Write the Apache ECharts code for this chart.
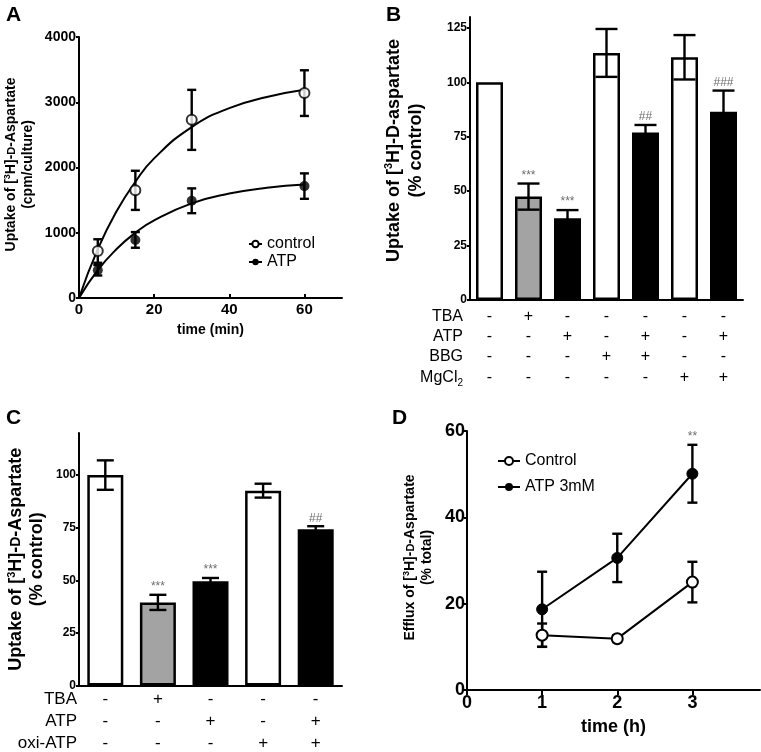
<!DOCTYPE html>
<html><head><meta charset="utf-8">
<script src="https://cdn.jsdelivr.net/npm/echarts@6/dist/echarts.min.js"></script>
<style>html,body{margin:0;padding:0;background:#fff}#c{width:761px;height:752px}</style>
</head><body><div id="c"></div>
<script>
// ---------- Panel A data ----------
const aTime = [5, 15, 30, 60];
const aControl = [720, 1650, 2730, 3140];
const aControlErr = [180, 300, 460, 350];
const aAtp = [425, 890, 1490, 1715];
const aAtpErr = [80, 120, 190, 195];
const aFitTime = [0, 5, 10, 15, 20, 30, 40, 50, 60];
const aControlFit = [0, 750, 1330, 1780, 2140, 2620, 2910, 3080, 3190];
const aAtpFit = [0, 426, 750, 1000, 1190, 1450, 1600, 1690, 1740];
const aXTicks = [0, 20, 40, 60];

// ---------- Panel B data ----------
const bCategories = ['Control', 'TBA', 'ATP', 'BBG', 'ATP+BBG', 'MgCl2', 'ATP+MgCl2'];
const bValues = [100, 47.5, 37.5, 113.5, 77, 111.5, 86.5];
const bErr = [0, 6, 3.8, 11, 3.4, 10.2, 9.7];
const bSig = ['', '***', '***', '', '##', '', '###'];
const bRowNames = ['TBA', 'ATP', 'BBG', 'MgCl{sub|2}'];
const bRows = [
  ['-', '+', '-', '-', '-', '-', '-'],
  ['-', '-', '+', '-', '+', '-', '+'],
  ['-', '-', '-', '+', '+', '-', '-'],
  ['-', '-', '-', '-', '-', '+', '+']
];
const bYTicks = [0, 25, 50, 75, 100, 125];

// ---------- Panel C data ----------
const cCategories = ['Control', 'TBA', 'ATP', 'oxi-ATP', 'ATP+oxi-ATP'];
const cValues = [100, 39.5, 49.6, 92.6, 74.2];
const cErr = [7, 3.6, 1.5, 3.3, 1.5];
const cSig = ['', '***', '***', '', '##'];
const cRowNames = ['TBA', 'ATP', 'oxi-ATP'];
const cRows = [
  ['-', '+', '-', '-', '-'],
  ['-', '-', '+', '-', '+'],
  ['-', '-', '-', '+', '+']
];
const cYTicks = [0, 25, 50, 75, 100];

// ---------- Panel D data ----------
const dTime = [1, 2, 3];
const dControl = [12.7, 11.9, 25];
const dControlErr = [2.7, 0.8, 4.7];
const dAtp = [18.7, 30.6, 50.1];
const dAtpErr = [8.7, 5.6, 6.7];
const dSig = ['', '', '**'];
const dXTicks = [0, 1, 2, 3];

// ---------- styles ----------
const FONT = '"Liberation Sans", Arial, sans-serif';
const fillB = ['#fff', '#a3a3a3', '#000', '#fff', '#000', '#fff', '#000'];
const fillC = ['#fff', '#a3a3a3', '#000', '#fff', '#000'];

function richName(size) {
  return {
    sup: {fontSize: Math.round(size * 0.62), fontWeight: 'bold', fontFamily: FONT, verticalAlign: 'top'},
    sc: {fontSize: Math.round(size * 0.8), fontWeight: 'bold', fontFamily: FONT}
  };
}

function errSeries(xi, yi, xs, vals, errs, capHalf, z) {
  return {
    type: 'custom', xAxisIndex: xi, yAxisIndex: yi, z: z, silent: true,
    data: xs.map((x, i) => [x, vals[i] - errs[i], vals[i] + errs[i]]),
    renderItem: function (params, api) {
      const x = api.value(0), lo = api.value(1), hi = api.value(2);
      if (hi === lo) return null;
      const a = api.coord([x, hi]), b = api.coord([x, lo]);
      const st = {stroke: '#000', lineWidth: 2.4};
      return {type: 'group', children: [
        {type: 'line', shape: {x1: a[0], y1: a[1], x2: b[0], y2: b[1]}, style: st},
        {type: 'line', shape: {x1: a[0] - capHalf, y1: a[1], x2: a[0] + capHalf, y2: a[1]}, style: st},
        {type: 'line', shape: {x1: b[0] - capHalf, y1: b[1], x2: b[0] + capHalf, y2: b[1]}, style: st}
      ]};
    }
  };
}

function sigSeries(xi, yi, xs, vals, errs, sig, gap) {
  return {
    type: 'custom', xAxisIndex: xi, yAxisIndex: yi, z: 6, silent: true,
    data: xs.map((x, i) => [x, vals[i] + errs[i]]),
    renderItem: function (params, api) {
      const t = sig[params.dataIndex];
      if (!t) return null;
      const p = api.coord([api.value(0), api.value(1)]);
      return {type: 'text', x: p[0], y: p[1] - gap,
        style: {text: t, fill: '#6e6e6e', fontSize: 12, fontFamily: FONT, align: 'center', verticalAlign: 'bottom'}};
    }
  };
}

const axisLineStyle = {show: true, lineStyle: {color: '#000', width: 2}};

function rowAxes(gridIndex, cats, names, rows, offsets, nameGap, fontSize) {
  return rows.map((row, r) => ({
    type: 'category', gridIndex: gridIndex, data: cats, position: 'bottom', offset: offsets[r],
    axisLine: {show: false}, axisTick: {show: false}, splitLine: {show: false},
    axisLabel: {show: true, margin: 0, verticalAlign: 'middle', interval: 0, fontSize: fontSize, color: '#000', fontFamily: FONT,
      formatter: (v, i) => row[i]},
    name: names[r], nameLocation: 'start', nameGap: nameGap, nameMoveOverlap: false,
    nameTextStyle: {fontSize: fontSize, color: '#000', fontFamily: FONT, verticalAlign: 'middle',
      rich: {sub: {fontSize: Math.round(fontSize * 0.65), fontFamily: FONT, verticalAlign: 'bottom', padding: [0, 0, -2, 0]}}}
  }));
}

const option = {
  animation: false,
  backgroundColor: '#fff',
  textStyle: {fontFamily: FONT},
  title: [
    {text: 'A', left: 1, top: 0, textStyle: {fontSize: 21, fontWeight: 'bold', color: '#000', fontFamily: FONT}},
    {text: 'B', left: 381, top: 0, textStyle: {fontSize: 21, fontWeight: 'bold', color: '#000', fontFamily: FONT}},
    {text: 'C', left: 1, top: 403, textStyle: {fontSize: 21, fontWeight: 'bold', color: '#000', fontFamily: FONT}},
    {text: 'D', left: 387, top: 403, textStyle: {fontSize: 21, fontWeight: 'bold', color: '#000', fontFamily: FONT}}
  ],
  grid: [
    {left: 79, top: 37, width: 263, height: 261},
    {left: 470, top: 17, width: 273, height: 283},
    {left: 79, top: 433, width: 263, height: 256},
    {left: 467, top: 431, width: 293, height: 259}
  ],
  legend: [
    {data: ['control', 'ATP'], left: 243, top: 231, orient: 'vertical', itemWidth: 13, itemHeight: 8, itemGap: 2,
      selectedMode: false, textStyle: {fontSize: 16, color: '#000', fontFamily: FONT}},
    {data: ['Control', 'ATP 3mM'], left: 492, top: 448, orient: 'vertical', itemWidth: 22, itemHeight: 10, itemGap: 10,
      selectedMode: false, textStyle: {fontSize: 16, color: '#000', fontFamily: FONT}}
  ],
  xAxis: [
    {type: 'value', gridIndex: 0, min: 0, max: 70, axisLine: axisLineStyle, splitLine: {show: false},
      axisTick: {show: true, inside: true, length: 4, lineStyle: {color: '#000', width: 2}, customValues: aXTicks},
      axisLabel: {customValues: aXTicks, fontSize: 15, fontWeight: 'bold', color: '#000', margin: 4, fontFamily: FONT},
      name: 'time (min)', nameLocation: 'middle', nameGap: 25, nameMoveOverlap: false,
      nameTextStyle: {fontSize: 14, fontWeight: 'bold', color: '#000', fontFamily: FONT}},
    {type: 'category', gridIndex: 1, data: bCategories, axisLine: axisLineStyle, axisTick: {show: false}, axisLabel: {show: false}},
    {type: 'category', gridIndex: 2, data: cCategories, axisLine: axisLineStyle, axisTick: {show: false}, axisLabel: {show: false}},
    {type: 'value', gridIndex: 3, min: 0, max: 3.9, axisLine: axisLineStyle, splitLine: {show: false},
      axisTick: {show: true, length: 5, lineStyle: {color: '#000', width: 2}, customValues: dXTicks},
      axisLabel: {customValues: dXTicks, fontSize: 18, fontWeight: 'bold', color: '#000', margin: 4, fontFamily: FONT},
      name: 'time (h)', nameLocation: 'middle', nameGap: 28, nameMoveOverlap: false,
      nameTextStyle: {fontSize: 18, fontWeight: 'bold', color: '#000', fontFamily: FONT}}
  ].concat(
    rowAxes(1, bCategories, bRowNames, bRows, [17, 37, 57, 78], 7, 16),
    rowAxes(2, cCategories, cRowNames, cRows, [14, 36, 58], 2, 17)
  ),
  yAxis: [
    {type: 'value', gridIndex: 0, min: 0, max: 4000, interval: 1000, axisLine: axisLineStyle, splitLine: {show: false},
      axisTick: {show: true, length: 3, lineStyle: {color: '#000', width: 2}},
      axisLabel: {fontSize: 14, fontWeight: 'bold', color: '#000', margin: 3, fontFamily: FONT, formatter: v => String(v)},
      name: 'Uptake of [{sup|3}H]-{sc|D}-Aspartate\n(cpm/culture)', nameLocation: 'middle', nameGap: 42, nameMoveOverlap: false,
      nameTextStyle: {fontSize: 14, fontWeight: 'bold', color: '#000', fontFamily: FONT, lineHeight: 17, rich: richName(14), padding: [0, 0, 0, 6]}},
    {type: 'value', gridIndex: 1, min: 0, max: 130, axisLine: axisLineStyle, splitLine: {show: false},
      axisTick: {show: true, length: 3, lineStyle: {color: '#000', width: 2}, customValues: bYTicks},
      axisLabel: {customValues: bYTicks, fontSize: 12, fontWeight: 'bold', color: '#000', margin: 3, fontFamily: FONT},
      name: 'Uptake of [{sup|3}H]-D-aspartate\n(% control)', nameLocation: 'middle', nameGap: 43, nameMoveOverlap: false,
      nameTextStyle: {fontSize: 18, fontWeight: 'bold', color: '#000', fontFamily: FONT, lineHeight: 22, rich: richName(18), padding: [0, 0, 0, 16]}},
    {type: 'value', gridIndex: 2, min: 0, max: 120, axisLine: axisLineStyle, splitLine: {show: false},
      axisTick: {show: true, length: 3, lineStyle: {color: '#000', width: 2}, customValues: cYTicks},
      axisLabel: {customValues: cYTicks, fontSize: 12, fontWeight: 'bold', color: '#000', margin: 3, fontFamily: FONT},
      name: 'Uptake of [{sup|3}H]-{sc|D}-Aspartate\n(% control)', nameLocation: 'middle', nameGap: 31, nameMoveOverlap: false,
      nameTextStyle: {fontSize: 18, fontWeight: 'bold', color: '#000', fontFamily: FONT, lineHeight: 21, rich: richName(18)}},
    {type: 'value', gridIndex: 3, min: 0, max: 60, interval: 20, axisLine: axisLineStyle, splitLine: {show: false},
      axisTick: {show: true, length: 3, lineStyle: {color: '#000', width: 2}},
      axisLabel: {fontSize: 18, fontWeight: 'bold', color: '#000', margin: 2, fontFamily: FONT},
      name: 'Efflux of [{sup|3}H]-{sc|D}-Aspartate\n(% total)', nameLocation: 'middle', nameGap: 31, nameMoveOverlap: false,
      nameTextStyle: {fontSize: 14, fontWeight: 'bold', color: '#000', fontFamily: FONT, lineHeight: 17, rich: richName(14), padding: [0, 0, 0, 6]}}
  ],
  series: [
    // Panel A fitted curves
    {type: 'line', name: 'control', xAxisIndex: 0, yAxisIndex: 0, smooth: 0.5, showSymbol: false, symbol: 'circle', symbolSize: 8,
      data: aFitTime.map((t, i) => [t, aControlFit[i]]), z: 3,
      lineStyle: {color: '#000', width: 2}, itemStyle: {color: '#fff', borderColor: '#000', borderWidth: 1.8}},
    {type: 'line', name: 'ATP', xAxisIndex: 0, yAxisIndex: 0, smooth: 0.5, showSymbol: false, symbol: 'circle', symbolSize: 8,
      data: aFitTime.map((t, i) => [t, aAtpFit[i]]), z: 3,
      lineStyle: {color: '#000', width: 2}, itemStyle: {color: '#000', borderColor: '#000'}},
    errSeries(0, 0, aTime, aControl, aControlErr, 4.5, 4),
    errSeries(0, 0, aTime, aAtp, aAtpErr, 4.5, 4),
    {type: 'scatter', xAxisIndex: 0, yAxisIndex: 0, symbol: 'circle', symbolSize: 10, z: 5,
      data: aTime.map((t, i) => [t, aControl[i]]), itemStyle: {color: '#fff', borderColor: '#000', borderWidth: 2}},
    {type: 'scatter', xAxisIndex: 0, yAxisIndex: 0, symbol: 'circle', symbolSize: 10, z: 5,
      data: aTime.map((t, i) => [t, aAtp[i]]), itemStyle: {color: '#000'}},

    // Panel B bars
    {type: 'bar', xAxisIndex: 1, yAxisIndex: 1, barWidth: 27, z: 2,
      data: bValues.map((v, i) => ({value: v, itemStyle: {color: fillB[i]}})),
      itemStyle: {borderColor: '#000', borderWidth: 2.5}},
    errSeries(1, 1, bCategories.map((c, i) => i), bValues, bErr, 11, 4),
    sigSeries(1, 1, bCategories.map((c, i) => i), bValues, bErr, bSig, 2),

    // Panel C bars
    {type: 'bar', xAxisIndex: 2, yAxisIndex: 2, barWidth: 36, z: 2,
      data: cValues.map((v, i) => ({value: v, itemStyle: {color: fillC[i]}})),
      itemStyle: {borderColor: '#000', borderWidth: 2.5}},
    errSeries(2, 2, cCategories.map((c, i) => i), cValues, cErr, 8.5, 4),
    sigSeries(2, 2, cCategories.map((c, i) => i), cValues, cErr, cSig, 2),

    // Panel D lines
    errSeries(3, 3, dTime, dControl, dControlErr, 5, 3),
    errSeries(3, 3, dTime, dAtp, dAtpErr, 5, 3),
    {type: 'line', name: 'Control', xAxisIndex: 3, yAxisIndex: 3, symbol: 'circle', symbolSize: 11, z: 5,
      data: dTime.map((t, i) => [t, dControl[i]]),
      lineStyle: {color: '#000', width: 2}, itemStyle: {color: '#fff', borderColor: '#000', borderWidth: 2}},
    {type: 'line', name: 'ATP 3mM', xAxisIndex: 3, yAxisIndex: 3, symbol: 'circle', symbolSize: 11, z: 5,
      data: dTime.map((t, i) => [t, dAtp[i]]),
      lineStyle: {color: '#000', width: 2}, itemStyle: {color: '#000', borderColor: '#000'}},
    sigSeries(3, 3, dTime, dAtp, dAtpErr, dSig, 2)
  ]
};

const chart = echarts.init(document.getElementById('c'), null, {renderer: 'canvas'});
chart.setOption(option);
</script>
</body></html>
